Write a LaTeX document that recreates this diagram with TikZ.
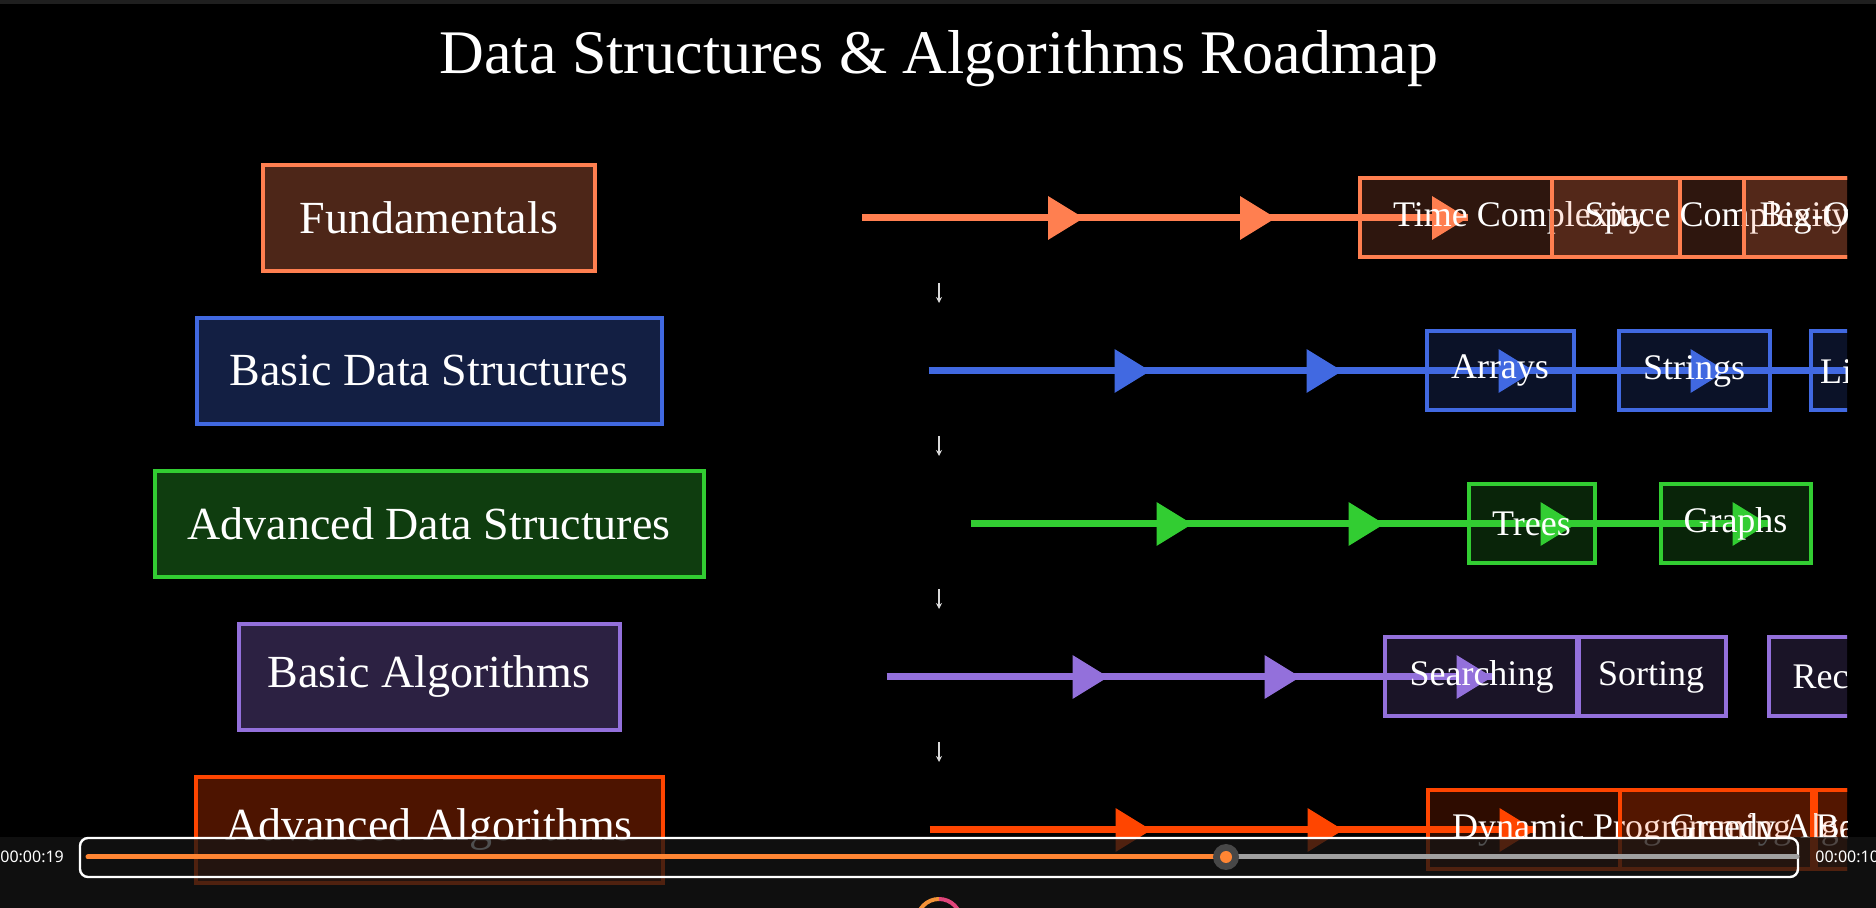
\documentclass[tikz,border=0pt]{standalone}
\usepackage{fontspec}
\setmainfont{Liberation Serif}
\newfontfamily\uifont{Noto Sans}
\usetikzlibrary{arrows.meta,positioning,calc}
\definecolor{fundC}{HTML}{FF7F50}
\definecolor{basicC}{HTML}{4169E1}
\definecolor{advdsC}{HTML}{32CD32}
\definecolor{algC}{HTML}{9370DB}
\definecolor{advalgC}{HTML}{FF4500}
\definecolor{barC}{HTML}{FF8533}
\definecolor{stripC}{HTML}{151515}
\definecolor{edgeC}{HTML}{1F1F1F}
\definecolor{knobC}{HTML}{474747}
\definecolor{railC}{HTML}{A0A0A0}
\definecolor{ringA}{HTML}{F39237}
\definecolor{ringB}{HTML}{E0457B}

\begin{document}
\begin{tikzpicture}[x=0.5pt,y=-0.5pt,
    stage/.style={draw=#1,fill=#1,fill opacity=0.3,text opacity=1,line width=2pt,
      minimum height=53pt,text=white,font=\fontsize{23}{27}\selectfont},
    topic/.style={draw=#1,fill=#1,fill opacity=0.18,text opacity=1,line width=2pt,
      minimum height=39.5pt,inner xsep=0pt,anchor=west,text=white,
      font=\fontsize{18}{22}\selectfont},
    flow/.style={color=#1,line width=3.5pt},
    tip/.style={color=#1,line width=3.5pt,-{Triangle[length=18pt,width=21pt]}},
    cue/.style={white!85!black,line width=1pt,-{Stealth[length=3pt,width=3pt]}},
    clock/.style={text=white,inner sep=0pt,font=\uifont\fontsize{8}{10}\selectfont}]
  \useasboundingbox (0,0) rectangle (1876,908);
  \fill[black] (0,0) rectangle (1876,908);
  \fill[edgeC] (0,0) rectangle (1876,4);
  \begin{scope}
    \clip (0,0) rectangle (1847,908);
    \node[text=white,font=\fontsize{31}{36}\selectfont] (title) at (939,59)
      {Data Structures \& Algorithms Roadmap};
    % stages on the left, each with the start of its row
    \foreach \n/\lab/\c/\w in {1/Fundamentals/fundC/166pt,
        2/Basic Data Structures/basicC/232.5pt,
        3/Advanced Data Structures/advdsC/274.5pt,
        4/Basic Algorithms/algC/190.5pt,
        5/Advanced Algorithms/advalgC/233.5pt}{
      \node[stage=\c,minimum width=\w] (m\n) at (429,{218+153*(\n-1)}) {\lab};
      \coordinate (t\n-0) at ($(m\n.east)+(265,0)$);}
    % arrows along the rows
    \foreach \n/\c/\t in {1/fundC/3,2/basicC/5,3/advdsC/4,4/algC/3,5/advalgC/3}{
      \foreach \k in {1,...,\t}
        \coordinate (t\n-\k) at ($(t\n-0)+(30+192*\k,0)$);
      \draw[flow=\c] (t\n-0) -- (t\n-\t);
      \foreach \k in {1,...,\t}
        \draw[tip=\c] ([xshift=-20pt]t\n-\k) -- (t\n-\k);}
    % topics of each row
    \foreach \n/\k/\c/\lab/\w in {1/1/fundC/Time Complexity/160pt,
        1/2/fundC/Space Complexity/165pt, 1/3/fundC/Big-O Notation/128pt,
        2/1/basicC/Arrays/73.5pt, 2/2/basicC/Strings/75.5pt,
        2/3/basicC/Linked Lists/100pt,
        3/1/advdsC/Trees/63pt, 3/2/advdsC/Graphs/75pt,
        4/1/algC/Searching/97pt, 4/2/algC/Sorting/74.5pt, 4/3/algC/Recursion/97pt,
        5/1/advalgC/Dynamic Programming/194pt,
        5/2/advalgC/Greedy Algorithms/190pt, 5/3/advalgC/Backtracking/100pt}
      \node[topic=\c,minimum width=\w] (p\n-\k) at ($(t\n-0)+(304+192*\k,0)$) {\lab};
    % small cues between the rows
    \foreach \n in {1,...,4}{
      \coordinate (d\n) at (939,{293+153*(\n-1)});
      \draw[cue] ([yshift=5pt]d\n) -- ([yshift=-5pt]d\n);}
  \end{scope}
  % player controls
  \fill[stripC,opacity=0.75] (0,837) rectangle (1876,908);
  \draw[white,line width=1.2pt,rounded corners=4pt] (80,838) rectangle (1798,877);
  \coordinate (pa) at (88,857);
  \coordinate (kb) at (1226,857);
  \coordinate (pe) at (1797,857);
  \draw[barC,line width=2.5pt,line cap=round] (pa) -- (kb);
  \draw[railC,line width=2.5pt,line cap=round] (kb) -- (pe);
  \fill[knobC] (kb) circle (6.5pt);
  \fill[barC] (kb) circle (3pt);
  \node[clock,anchor=west] (tl) at (0,857) {00:00:19};
  \node[clock,anchor=west] (tr) at (1815,857) {00:00:10};
  \draw[ringA,line width=2pt] (917,921) arc[start angle=180,end angle=90,radius=11pt];
  \draw[ringB,line width=2pt] (939,899) arc[start angle=90,end angle=0,radius=11pt];
\end{tikzpicture}
\end{document}
